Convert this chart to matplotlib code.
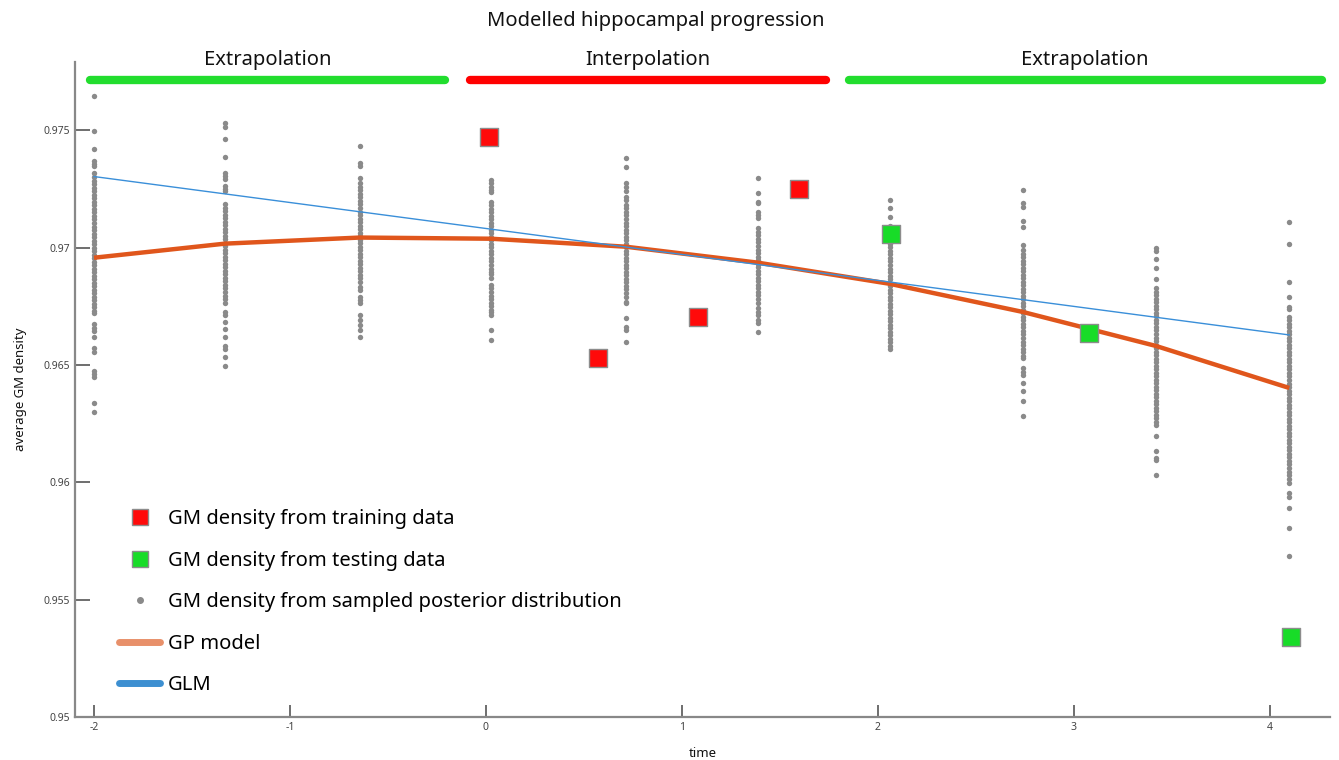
import numpy as np
import matplotlib
matplotlib.use('Agg')
import matplotlib.pyplot as plt
from matplotlib.lines import Line2D

plt.rcParams['font.family'] = ['Noto Sans', 'DejaVu Sans']

# time points of the posterior samples
t_cols = [-2.0, -1.332, -0.643, 0.026, 0.714, 1.388, 2.06, 2.74, 3.42, 4.10]

# sampled posterior values, one list per time point
s_m200 = [0.97648, 0.97497, 0.97422, 0.97369, 0.97358, 0.97346, 0.97317,
          0.9730, 0.97285, 0.9727, 0.97255, 0.9724, 0.97225, 0.9721, 0.97195, 0.9718, 0.97165,
          0.9715, 0.97135, 0.9712, 0.97105, 0.9709, 0.97075, 0.9706, 0.97045, 0.9703, 0.97015,
          0.9700, 0.96985, 0.9697, 0.96955, 0.9694, 0.96925, 0.9691, 0.96895, 0.9688, 0.96865,
          0.9685, 0.96835, 0.9682, 0.96805, 0.9679, 0.96775, 0.9676, 0.96745, 0.9673, 0.96720,
          0.96673, 0.96659, 0.96645, 0.96621, 0.96571, 0.96557, 0.96474, 0.96460, 0.96449,
          0.96337, 0.96301]
s_m133 = [0.97530, 0.97513, 0.97463, 0.97388, 0.97317, 0.97304, 0.97291, 0.97262, 0.97251, 0.97240,
          0.97186, 0.97171, 0.97156, 0.97141, 0.97126, 0.97111, 0.97096, 0.97081, 0.97066, 0.97051,
          0.97036, 0.97021, 0.97006, 0.96991, 0.96976, 0.96961, 0.96946, 0.96931, 0.96916, 0.96901,
          0.96886, 0.96871, 0.96856, 0.96841, 0.96826, 0.96811, 0.96796, 0.96781, 0.96766,
          0.96724, 0.96713, 0.96683, 0.96652, 0.96621, 0.96582, 0.96568, 0.96533, 0.96497]
s_m064 = [0.97435, 0.97362, 0.97348, 0.97298,
          0.97274, 0.97259, 0.97244, 0.97229, 0.97214, 0.97199, 0.97184, 0.97169, 0.97154, 0.97139,
          0.97124, 0.97109, 0.97094, 0.97079, 0.97064, 0.97049, 0.97034, 0.97019, 0.97004, 0.96989,
          0.96974, 0.96959, 0.96944, 0.96929, 0.96914, 0.96899, 0.96884, 0.96869, 0.96854,
          0.96831, 0.96819, 0.96791, 0.96777, 0.96766, 0.96713, 0.96692, 0.96670, 0.96649, 0.96621]
s_p003 = [0.97288, 0.97274, 0.97260, 0.97245, 0.97236,
          0.97196, 0.97181, 0.97166, 0.97151, 0.97136, 0.97121, 0.97106, 0.97091, 0.97076, 0.97061,
          0.97046, 0.97031, 0.97016, 0.97001, 0.96986, 0.96971, 0.96956, 0.96941, 0.96926, 0.96911,
          0.96898, 0.96886, 0.96872,
          0.96841, 0.96826, 0.96811, 0.96796, 0.96781, 0.96766, 0.96751, 0.96736, 0.96724, 0.96713,
          0.96649, 0.96606]
s_p071 = [0.97383, 0.97345, 0.97274, 0.97260, 0.97241, 0.97217, 0.97203,
          0.97182, 0.97167, 0.97152, 0.97137, 0.97122, 0.97107, 0.97092, 0.97077, 0.97062, 0.97047,
          0.97032, 0.97017, 0.97002, 0.96987, 0.96972, 0.96957, 0.96942, 0.96927, 0.96912, 0.96897,
          0.96882, 0.96867, 0.96852, 0.96837, 0.96822, 0.96807, 0.96791,
          0.96770, 0.96763, 0.96699, 0.96663, 0.96649, 0.96599]
s_p139 = [0.97298, 0.97231, 0.97196, 0.97189, 0.97153, 0.97139, 0.97125,
          0.97082, 0.97067, 0.97052, 0.97037, 0.97022, 0.97007, 0.96992, 0.96977, 0.96962, 0.96947,
          0.96932, 0.96917, 0.96902, 0.96887, 0.96872, 0.96857, 0.96842, 0.96827, 0.96812, 0.96797,
          0.96782,
          0.96763, 0.96742, 0.96727, 0.96713, 0.96692, 0.96677, 0.96642]
s_p206 = [0.97203, 0.97167, 0.97132,
          0.97091, 0.97076, 0.97061, 0.97046, 0.97031, 0.97016, 0.97001, 0.96986, 0.96971, 0.96956,
          0.96941, 0.96926, 0.96911, 0.96896, 0.96881, 0.96866, 0.96851, 0.96836, 0.96821, 0.96806,
          0.96791, 0.96776, 0.96761, 0.96746, 0.96731, 0.96716, 0.96701, 0.96686, 0.96671, 0.96656,
          0.96641, 0.96626, 0.96611, 0.96596, 0.96581, 0.96568]
s_p274 = [0.97245, 0.97189, 0.97175, 0.97113, 0.97089, 0.97011,
          0.96990, 0.96975, 0.96960, 0.96945, 0.96930, 0.96915, 0.96900, 0.96885, 0.96870, 0.96855,
          0.96840, 0.96825, 0.96810, 0.96795, 0.96780, 0.96765, 0.96750, 0.96735, 0.96720, 0.96705,
          0.96690, 0.96675, 0.96660, 0.96645, 0.96630, 0.96615, 0.96600, 0.96585, 0.96570, 0.96555,
          0.96540, 0.96528,
          0.96486, 0.96472, 0.96457, 0.96422, 0.96389, 0.96346, 0.96284]
s_p342 = [0.96997, 0.96986, 0.96951, 0.96912, 0.96866,
          0.96827, 0.96812, 0.96797, 0.96782, 0.96767, 0.96752, 0.96737, 0.96722, 0.96707, 0.96692,
          0.96677, 0.96662, 0.96647, 0.96632, 0.96617, 0.96602, 0.96587, 0.96572, 0.96557, 0.96542,
          0.96527, 0.96512, 0.96497, 0.96482, 0.96467, 0.96452, 0.96437, 0.96422, 0.96407, 0.96392,
          0.96377, 0.96362, 0.96347, 0.96332, 0.96317, 0.96302, 0.96287, 0.96272, 0.96257, 0.96244,
          0.96199, 0.96133, 0.96102, 0.96095, 0.96031]
s_p410 = [0.97111, 0.97014, 0.96855, 0.96790, 0.96749, 0.96737,
          0.96706, 0.96691, 0.96676, 0.96661, 0.96646, 0.96631, 0.96616, 0.96601, 0.96586, 0.96571,
          0.96556, 0.96541, 0.96526, 0.96511, 0.96496, 0.96481, 0.96466, 0.96451, 0.96436, 0.96421,
          0.96406, 0.96391, 0.96376, 0.96361, 0.96346, 0.96331, 0.96316, 0.96301, 0.96286, 0.96271,
          0.96256, 0.96241, 0.96226, 0.96211, 0.96196, 0.96181, 0.96166, 0.96151, 0.96136, 0.96121,
          0.96106, 0.96091, 0.96076, 0.96061, 0.96046, 0.96031, 0.96016, 0.95996,
          0.95953, 0.95939, 0.95889, 0.95804, 0.95686]
samples = [s_m200, s_m133, s_m064, s_p003, s_p071, s_p139, s_p206, s_p274, s_p342, s_p410]

# GP model mean at the time points
gp_mean = [0.96957, 0.97017, 0.97043, 0.97038, 0.97004, 0.96936, 0.96846, 0.96726, 0.96581, 0.96402]

# GLM fit (straight line)
glm_t = [-2.0, 4.10]
glm_y = [0.97303, 0.96628]

# observed GM density
train_t = [0.015, 0.571, 1.082, 1.597]
train_y = [0.97470, 0.96530, 0.96705, 0.97248]
test_t = [2.066, 3.08, 4.107]
test_y = [0.97056, 0.96637, 0.95342]

# region bars along the top
regions = ['Extrapolation', 'Interpolation', 'Extrapolation']
region_start = [-2.02, -0.082, 1.852]
region_end = [-0.209, 1.735, 4.265]
region_colors = ['#22dd2e', '#ff0000', '#22dd2e']

fig = plt.figure(figsize=(13.39, 7.6), dpi=100)
ax = fig.add_axes([0.056, 0.0566, 0.937, 0.8618])

dot_clr = '#8a8a8a'
for t, vals in zip(t_cols, samples):
    ax.scatter(np.full(len(vals), t), vals, s=15, color=dot_clr, linewidths=0, zorder=2)

ax.plot(t_cols, gp_mean, color='#e0561c', linewidth=3.2, zorder=3, solid_capstyle='butt')
ax.plot(glm_t, glm_y, color='#3a8fd9', linewidth=1.0, zorder=3)

ax.scatter(train_t, train_y, marker='s', s=150, color='#ff0a0a', edgecolors='#8c8c8c',
           linewidths=1.0, zorder=4)
ax.scatter(test_t, test_y, marker='s', s=150, color='#18dc28', edgecolors='#8c8c8c',
           linewidths=1.0, zorder=4)

bar_y = 0.97714
for name, a, b, c in zip(regions, region_start, region_end, region_colors):
    ax.plot([a, b], [bar_y, bar_y], color=c, linewidth=6, solid_capstyle='round', clip_on=False)
    ax.text((a + b) / 2, 0.97800, name, ha='center', va='center', fontsize=14.5, color='#111111')

fig.text(0.49, 0.972, 'Modelled hippocampal progression', ha='center', va='center',
         fontsize=14.5, color='#111111')

ax.set_xlim(-2.097, 4.306)
ax.set_ylim(0.95, 0.97791)
ax.set_xticks([-2, -1, 0, 1, 2, 3, 4])
ax.set_xticklabels(['-2', '-1', '0', '1', '2', '3', '4'])
ax.set_yticks([0.95, 0.955, 0.96, 0.965, 0.97, 0.975])
ax.set_yticklabels(['0.95', '0.955', '0.96', '0.965', '0.97', '0.975'])
ax.tick_params(axis='both', direction='in', length=9, width=1.2, color='#555555',
               labelsize=7.5, labelcolor='#444444')
ax.tick_params(axis='y', length=11)
for side in ['top', 'right']:
    ax.spines[side].set_visible(False)
for side in ['left', 'bottom']:
    ax.spines[side].set_color('#888888')
    ax.spines[side].set_linewidth(1.6)

ax.set_xlabel('time', fontsize=9.5, color='#111111', labelpad=10)
ax.set_ylabel('average GM density', fontsize=9.5, color='#111111', labelpad=12)

handles = [
    Line2D([], [], linestyle='none', marker='s', markersize=12, markerfacecolor='#ff0a0a',
           markeredgecolor='#8c8c8c'),
    Line2D([], [], linestyle='none', marker='s', markersize=12, markerfacecolor='#18dc28',
           markeredgecolor='#8c8c8c'),
    Line2D([], [], linestyle='none', marker='o', markersize=4, markerfacecolor=dot_clr,
           markeredgecolor=dot_clr),
    Line2D([], [], color='#e8906a', linewidth=5, solid_capstyle='round'),
    Line2D([], [], color='#3d8fd1', linewidth=5, solid_capstyle='round'),
]
labels = ['GM density from training data', 'GM density from testing data',
          'GM density from sampled posterior distribution', 'GP model', 'GLM']
ax.legend(handles, labels, loc='upper left', bbox_to_anchor=(0.021, 0.345), frameon=False,
          fontsize=14.5, labelspacing=1.07, handlelength=2.0, handletextpad=0.4)

plt.savefig('out.png', dpi=100)
plt.close()
